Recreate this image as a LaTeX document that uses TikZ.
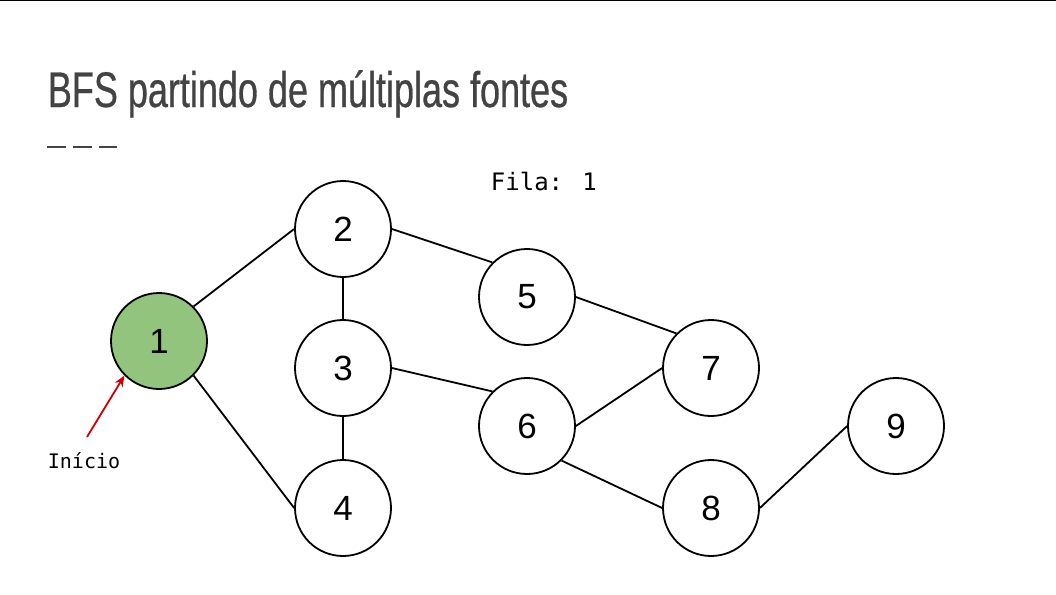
\documentclass[tikz,border=0pt]{standalone}
\usepackage{fontspec}
\usepackage{xcolor}
\usepackage{tikz}
\usetikzlibrary{arrows.meta}
\setmainfont{Liberation Sans}
\newfontfamily\titlefont[FakeStretch=0.72,FakeBold=0.6]{Liberation Sans}
\newfontfamily\monofont{DejaVu Sans Mono}
\definecolor{verde}{HTML}{93C47D}
\definecolor{titulo}{HTML}{434343}
\definecolor{seta}{HTML}{CC0000}

\begin{document}
\begin{tikzpicture}
	[x=1pt,y=-1pt, line width=1.8pt,
	vertice/.style={circle,draw,minimum size=96pt,inner sep=0pt,font=\fontsize{35}{35}\selectfont},
	inicio/.style={vertice,fill=verde},
	aresta/.style={line width=1.8pt}]
	\useasboundingbox (0,0) rectangle (1056,594);
	\draw[line width=1pt] (0,0.5) -- (1056,0.5);
	\node[anchor=base west,inner sep=0pt,text=titulo,font=\titlefont\fontsize{50}{50}\selectfont] (titulo) at (47,107) {BFS partindo de múltiplas fontes};
	\draw[titulo,line width=1.5pt,dash pattern=on 19pt off 7pt] (47,147) -- (117,147);
	\node[anchor=base west,inner sep=0pt,font=\monofont\fontsize{24}{24}\selectfont] (fila) at (490,190) {Fila: 1};
	\node[inicio] (v1) at (159,341) {1};
	\node[vertice] (v2) at (343,229) {2};
	\node[vertice] (v3) at (343,368) {3};
	\node[vertice] (v4) at (343,508) {4};
	\node[vertice] (v5) at (527,297) {5};
	\node[vertice] (v6) at (527,426) {6};
	\node[vertice] (v7) at (711,368) {7};
	\node[vertice] (v8) at (711,508) {8};
	\node[vertice] (v9) at (896,426) {9};
	\foreach \a/\b in {v1.north east/v2.west,v1.south east/v4.west,v2.south/v3.north,
		v2.east/v5.north west,v3.south/v4.north,v3.east/v6.north west,v5.east/v7.north west,
		v6.east/v7.west,v6.south east/v8.west,v8.east/v9.west}
		\draw[aresta] (\a) -- (\b);
	\node[anchor=base west,inner sep=0pt,font=\monofont\fontsize{20}{20}\selectfont] (rotulo) at (47,468) {Início};
	\coordinate (cauda) at (87,437);
	\draw[seta,line width=1.8pt,-{Stealth[length=11pt,width=9pt]}] (cauda) -- (v1.south west);
\end{tikzpicture}
\end{document}
